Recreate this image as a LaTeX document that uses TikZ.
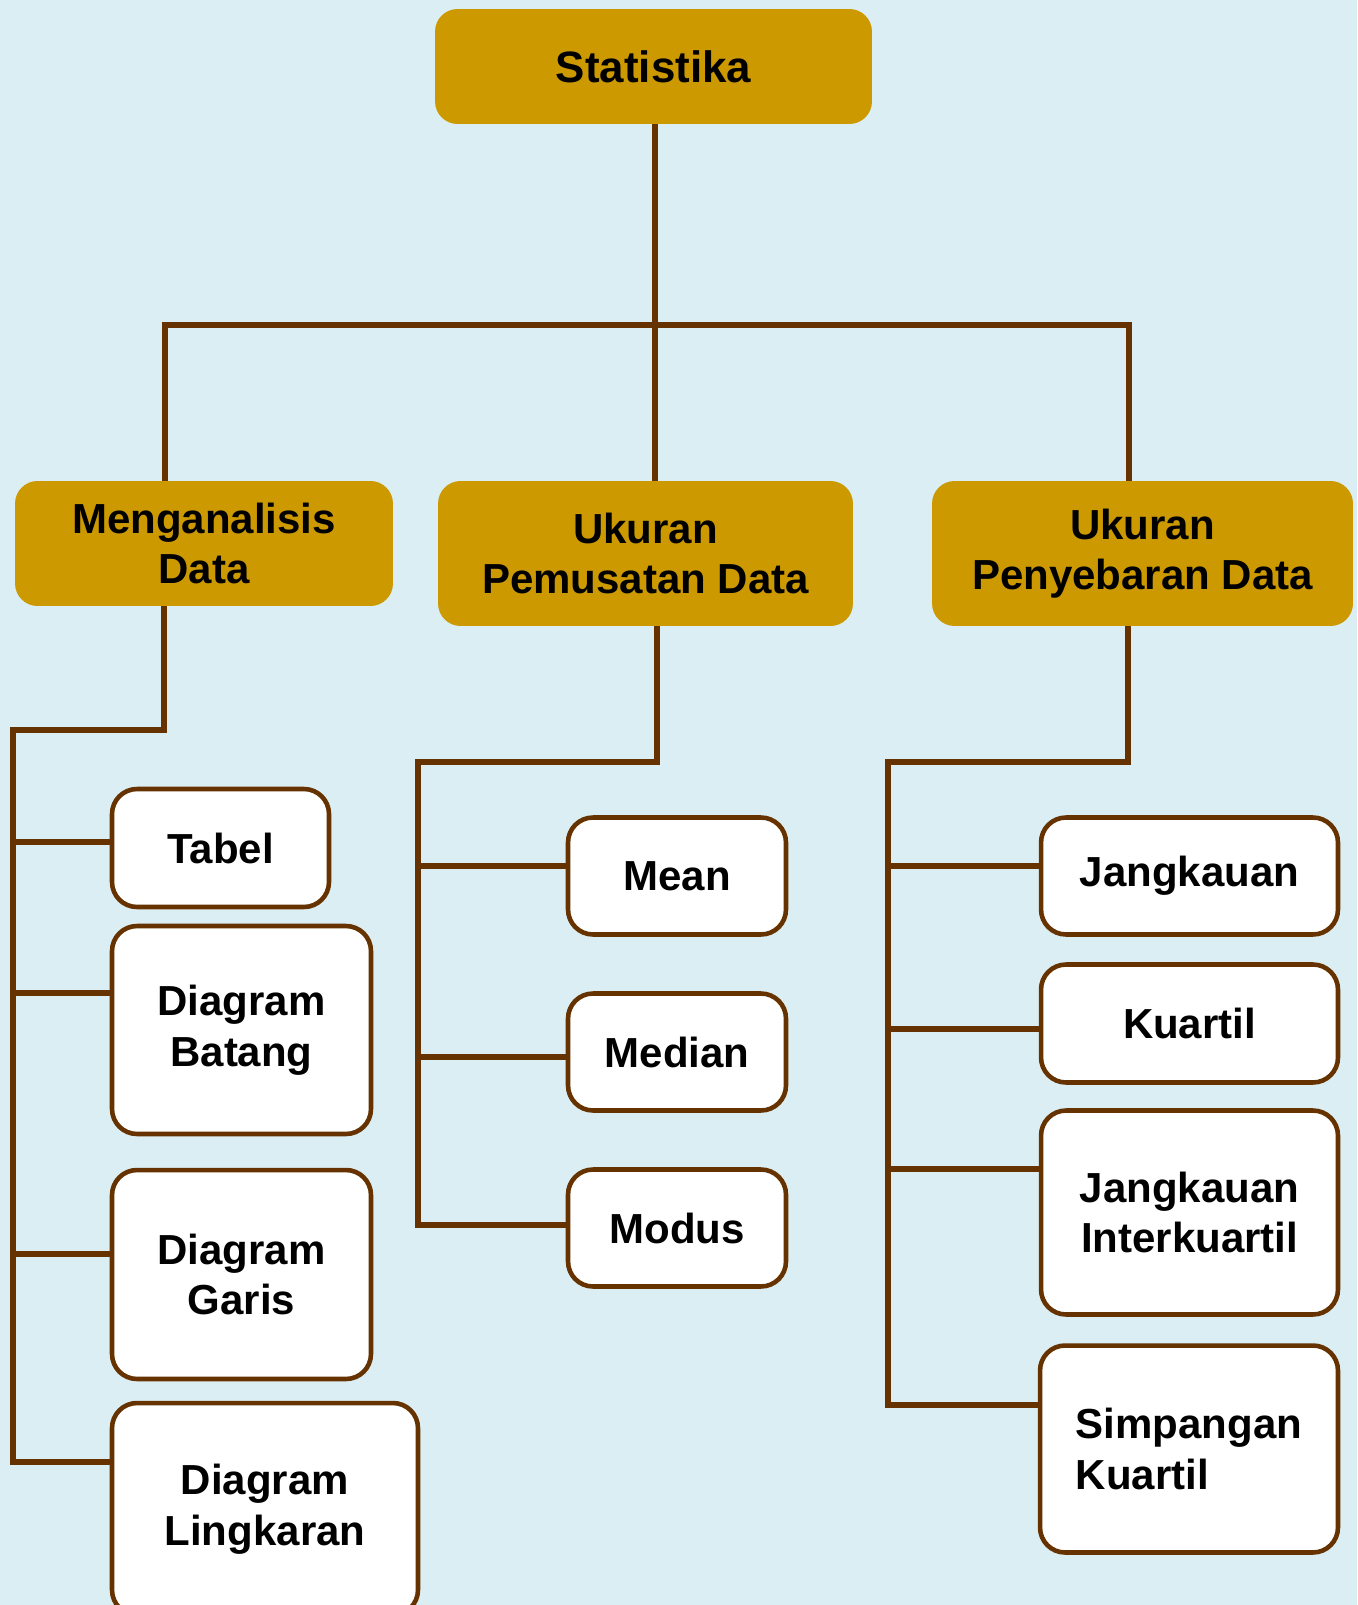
\documentclass[tikz,border=0pt]{standalone}
\usepackage{fontspec}
\setmainfont{Liberation Sans}
\usepackage{tikz}
\usetikzlibrary{calc}
\definecolor{statGold}{RGB}{204,153,0}
\definecolor{statBrown}{RGB}{102,51,0}
\definecolor{statBg}{RGB}{219,238,244}

\begin{document}
\begin{tikzpicture}[x=0.02cm,y=-0.02cm,
    goldbox/.style={fill=statGold, rounded corners=0.45cm, align=center, inner sep=0pt,
      font=\fontsize{23.9}{28.8}\selectfont\bfseries},
    leafbox/.style={draw=statBrown, line width=2.6pt, fill=white, rounded corners=0.5cm,
      align=center, inner sep=0pt, font=\fontsize{23.9}{28.8}\selectfont\bfseries},
    link/.style={draw=statBrown, line width=3.9pt, line join=miter}]
    \useasboundingbox[fill=statBg] (0,0) rectangle (1357,1605);

    % top and second level
    \node[goldbox, minimum width=8.74cm, minimum height=2.30cm,
      font=\fontsize{25}{29}\selectfont\bfseries] (stat) at (653.5,66.5) {Statistika};
    \node[goldbox, minimum width=7.56cm, minimum height=2.50cm] (analisis) at (204,543.5) {Menganalisis\\Data};
    \node[goldbox, minimum width=8.30cm, minimum height=2.90cm] (pemusatan) at (645.5,553.5) {Ukuran\\Pemusatan Data};
    \node[goldbox, minimum width=8.42cm, minimum height=2.90cm] (penyebaran) at (1142.5,553.5) {Ukuran\\Penyebaran Data};

    % leaves
    \node[leafbox, minimum width=4.34cm, minimum height=2.36cm] (tabel) at (220.5,848) {Tabel};
    \node[leafbox, minimum width=5.18cm, minimum height=4.16cm] (batang) at (241.5,1030) {Diagram\\Batang};
    \node[leafbox, minimum width=5.18cm, minimum height=4.18cm] (garis) at (241.5,1274.5) {Diagram\\Garis};
    \node[leafbox, minimum width=6.12cm, minimum height=4.24cm] (lingkaran) at (265,1509) {Diagram\\Lingkaran};

    \node[leafbox, minimum width=4.36cm, minimum height=2.34cm] (mean) at (677,876) {Mean};
    \node[leafbox, minimum width=4.36cm, minimum height=2.34cm] (median) at (677,1052) {Median};
    \node[leafbox, minimum width=4.36cm, minimum height=2.34cm] (modus) at (677,1228) {Modus};

    \node[leafbox, minimum width=5.94cm, minimum height=2.34cm] (jangkauan) at (1189.5,876) {Jangkauan};
    \node[leafbox, minimum width=5.94cm, minimum height=2.36cm] (kuartil) at (1189.5,1023.5) {Kuartil};
    \node[leafbox, minimum width=5.94cm, minimum height=4.08cm] (interkuartil) at (1189.5,1212.5) {Jangkauan\\Interkuartil};
    \node[leafbox, minimum width=5.96cm, minimum height=4.14cm, align=left] (simpangan) at (1189,1449) {Simpangan\\Kuartil};

    % top links
    \coordinate (hubM) at (655,325);
    \coordinate (hubL) at (165,325);
    \coordinate (hubR) at (1129,325);
    \draw[link] (stat.south -| hubM) -- (hubM);
    \draw[link] (hubL |- analisis.north) -- (hubL) -- (hubR) -- (hubR |- penyebaran.north);
    \draw[link] (hubM) -- (hubM |- pemusatan.north);

    % left branch
    \coordinate (elbowL) at (164,730);
    \coordinate (spineL) at (13,730);
    \coordinate (l1) at (13,842);
    \coordinate (l2) at (13,993);
    \coordinate (l3) at (13,1254);
    \coordinate (l4) at (13,1462);
    \draw[link] (elbowL |- analisis.south) -- (elbowL) -- (spineL) -- (l4) -- (l4 -| lingkaran.west);
    \draw[link] (l1) -- (l1 -| tabel.west);
    \draw[link] (l2) -- (l2 -| batang.west);
    \draw[link] (l3) -- (l3 -| garis.west);

    % middle branch
    \coordinate (elbowM) at (657,762);
    \coordinate (spineM) at (418,762);
    \coordinate (m1) at (418,866);
    \coordinate (m2) at (418,1057);
    \coordinate (m3) at (418,1225);
    \draw[link] (elbowM |- pemusatan.south) -- (elbowM) -- (spineM) -- (m3) -- (m3 -| modus.west);
    \draw[link] (m1) -- (m1 -| mean.west);
    \draw[link] (m2) -- (m2 -| median.west);

    % right branch
    \coordinate (elbowR) at (1128,762);
    \coordinate (spineR) at (888,762);
    \coordinate (r1) at (888,866);
    \coordinate (r2) at (888,1029);
    \coordinate (r3) at (888,1169);
    \coordinate (r4) at (888,1405);
    \draw[link] (elbowR |- penyebaran.south) -- (elbowR) -- (spineR) -- (r4) -- (r4 -| simpangan.west);
    \draw[link] (r1) -- (r1 -| jangkauan.west);
    \draw[link] (r2) -- (r2 -| kuartil.west);
    \draw[link] (r3) -- (r3 -| interkuartil.west);
\end{tikzpicture}
\end{document}
